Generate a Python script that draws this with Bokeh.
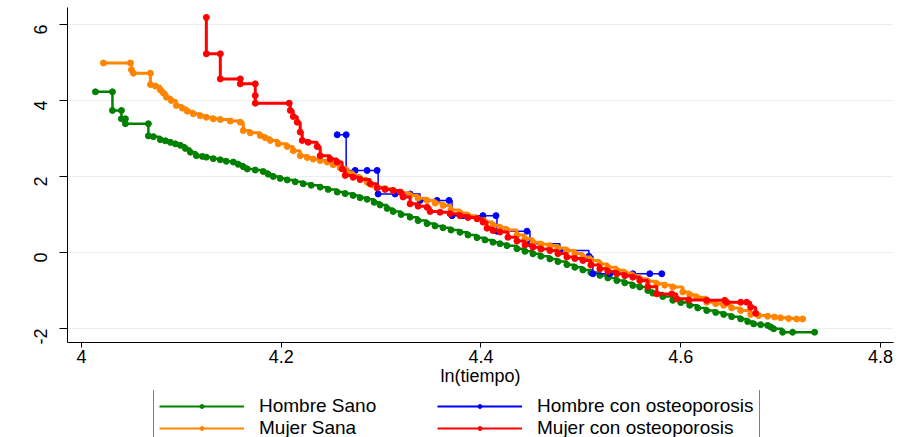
import math
from bokeh.plotting import figure
from bokeh.layouts import column
from bokeh.models import Range1d, FixedTicker, Legend, LegendItem
from bokeh.embed import file_html
from bokeh.resources import INLINE

# Hombre Sano
hs_x = [4.014, 4.031, 4.031, 4.040, 4.040, 4.044, 4.044, 4.067, 4.067, 4.072, 4.079, 4.084, 4.089, 4.094,
        4.099, 4.104, 4.109, 4.115, 4.121, 4.125, 4.132, 4.139, 4.145, 4.152, 4.157, 4.162, 4.166, 4.174,
        4.182, 4.187, 4.192, 4.199, 4.206, 4.214, 4.222, 4.230, 4.239, 4.247, 4.256, 4.264, 4.272, 4.279,
        4.286, 4.293, 4.299, 4.306, 4.312, 4.320, 4.329, 4.337, 4.346, 4.354, 4.362, 4.370, 4.379, 4.387,
        4.396, 4.404, 4.412, 4.419, 4.426, 4.436, 4.444, 4.452, 4.460, 4.469, 4.477, 4.486, 4.494, 4.502,
        4.510, 4.519, 4.527, 4.536, 4.544, 4.552, 4.559, 4.567, 4.572, 4.582, 4.592, 4.600, 4.609, 4.617,
        4.626, 4.635, 4.643, 4.651, 4.660, 4.667, 4.673, 4.680, 4.687, 4.690, 4.693, 4.702, 4.712, 4.734]
hs_y = [4.23, 4.23, 3.74, 3.74, 3.52, 3.52, 3.39, 3.39, 3.07, 3.05, 2.97, 2.94, 2.90, 2.86,
        2.82, 2.74, 2.64, 2.55, 2.53, 2.51, 2.47, 2.44, 2.40, 2.38, 2.32, 2.26, 2.20, 2.17,
        2.13, 2.06, 2.00, 1.95, 1.91, 1.86, 1.81, 1.77, 1.72, 1.66, 1.59, 1.55, 1.50, 1.44,
        1.40, 1.32, 1.25, 1.16, 1.08, 1.00, 0.93, 0.84, 0.76, 0.70, 0.65, 0.59, 0.53, 0.46,
        0.39, 0.33, 0.27, 0.23, 0.18, 0.10, 0.03, -0.035, -0.10, -0.17, -0.24, -0.32, -0.39, -0.46,
        -0.53, -0.605, -0.67, -0.74, -0.80, -0.87, -0.91, -1.00, -1.07, -1.16, -1.26, -1.32, -1.39, -1.46,
        -1.53, -1.58, -1.63, -1.69, -1.75, -1.82, -1.88, -1.90, -1.92, -1.96, -2.01, -2.10, -2.10, -2.10]

# Hombre con osteoporosis
ho_x = [4.256, 4.265, 4.265, 4.274, 4.286, 4.296, 4.297, 4.314, 4.329, 4.339, 4.356, 4.368, 4.371,
        4.382, 4.402, 4.415, 4.416, 4.446, 4.449, 4.479, 4.508, 4.512, 4.529, 4.552, 4.569, 4.581]
ho_y = [3.10, 3.10, 2.16, 2.16, 2.16, 2.16, 1.54, 1.54, 1.54, 1.37, 1.37, 1.37, 0.97,
        0.97, 0.97, 0.97, 0.56, 0.56, 0.23, 0.05, -0.10, -0.56, -0.56, -0.56, -0.56, -0.56]

# Mujer Sana
ms_x = [4.022, 4.049, 4.050, 4.052, 4.069, 4.069, 4.074, 4.079, 4.082, 4.085, 4.090, 4.095, 4.101,
        4.106, 4.112, 4.119, 4.125, 4.132, 4.139, 4.149, 4.159, 4.162, 4.169, 4.179, 4.184, 4.189,
        4.197, 4.206, 4.212, 4.219, 4.226, 4.232, 4.239, 4.246, 4.252, 4.259, 4.266, 4.272, 4.279,
        4.286, 4.291, 4.296, 4.304, 4.312, 4.320, 4.329, 4.337, 4.346, 4.354, 4.362, 4.370, 4.379,
        4.387, 4.396, 4.404, 4.412, 4.419, 4.426, 4.436, 4.444, 4.452, 4.460, 4.469, 4.477, 4.486,
        4.494, 4.502, 4.510, 4.519, 4.527, 4.536, 4.544, 4.552, 4.559, 4.567, 4.576, 4.584, 4.592,
        4.602, 4.609, 4.616, 4.626, 4.635, 4.643, 4.651, 4.660, 4.670, 4.678, 4.687, 4.694, 4.700,
        4.708, 4.716, 4.722]
ms_y = [4.99, 4.99, 4.81, 4.72, 4.72, 4.42, 4.38, 4.28, 4.20, 4.09, 4.00, 3.87, 3.80,
        3.72, 3.65, 3.60, 3.56, 3.52, 3.50, 3.46, 3.43, 3.21, 3.15, 3.08, 3.02, 2.95,
        2.86, 2.79, 2.68, 2.55, 2.50, 2.46, 2.42, 2.38, 2.31, 2.23, 2.12, 2.03, 1.95,
        1.85, 1.78, 1.72, 1.68, 1.63, 1.57, 1.50, 1.43, 1.37, 1.30, 1.24, 1.12, 1.04,
        0.97, 0.89, 0.80, 0.72, 0.66, 0.59, 0.46, 0.36, 0.27, 0.22, 0.18, 0.12, 0.05,
        -0.03, -0.12, -0.21, -0.30, -0.39, -0.47, -0.54, -0.61, -0.69, -0.76, -0.82, -0.86, -0.91,
        -1.04, -1.11, -1.18, -1.31, -1.35, -1.39, -1.46, -1.53, -1.63, -1.66, -1.68, -1.70, -1.72,
        -1.74, -1.75, -1.75]

# Mujer con osteoporosis
mo_x = [4.125, 4.125, 4.139, 4.139, 4.159, 4.159, 4.174, 4.174, 4.174, 4.208, 4.209, 4.212, 4.216,
        4.219, 4.221, 4.227, 4.236, 4.239, 4.249, 4.256, 4.261, 4.264, 4.272, 4.279, 4.289, 4.296,
        4.304, 4.312, 4.319, 4.322, 4.329, 4.337, 4.346, 4.349, 4.359, 4.369, 4.379, 4.387, 4.396,
        4.402, 4.406, 4.412, 4.419, 4.427, 4.436, 4.444, 4.452, 4.460, 4.469, 4.477, 4.486, 4.494,
        4.502, 4.510, 4.519, 4.527, 4.536, 4.544, 4.552, 4.559, 4.567, 4.576, 4.591, 4.596, 4.608,
        4.626, 4.644, 4.646, 4.660, 4.666, 4.670, 4.675]
mo_y = [6.19, 5.23, 5.23, 4.57, 4.57, 4.44, 4.44, 4.13, 3.93, 3.93, 3.74, 3.58, 3.43,
        3.17, 2.95, 2.90, 2.79, 2.55, 2.46, 2.38, 2.20, 2.03, 1.98, 1.92, 1.81, 1.70,
        1.66, 1.63, 1.59, 1.46, 1.28, 1.22, 1.19, 1.08, 1.06, 1.02, 0.97, 0.92, 0.89,
        0.80, 0.64, 0.58, 0.54, 0.40, 0.30, 0.20, 0.14, 0.09, 0.05, -0.03, -0.12, -0.16,
        -0.21, -0.33, -0.43, -0.50, -0.56, -0.61, -0.65, -0.74, -0.90, -1.09, -1.09, -1.22, -1.25,
        -1.26, -1.26, -1.31, -1.31, -1.31, -1.44, -1.60]

x_ticks = [4.0, 4.2, 4.4, 4.6, 4.8]
x_tick_labels = ["4", "4.2", "4.4", "4.6", "4.8"]
y_ticks = [-2, 0, 2, 4, 6]
y_tick_labels = ["-2", "0", "2", "4", "6"]
x_title = "ln(tiempo)"

FONT = "Liberation Sans"
W = 899
H_MAIN = 390
H_LEG = 47

p = figure(width=W, height=H_MAIN, x_range=Range1d(3.986, 4.813), y_range=Range1d(-2.37, 6.45),
           output_backend="svg", toolbar_location=None,
           min_border_left=67, min_border_right=6, min_border_top=7, min_border_bottom=48)
p.outline_line_color = None
p.background_fill_color = "white"
p.border_fill_color = "white"

p.xgrid.grid_line_color = None
p.ygrid.grid_line_color = "#E6EFF1"
p.ygrid.grid_line_width = 1
p.ygrid.ticker = FixedTicker(ticks=y_ticks)

p.xaxis.ticker = FixedTicker(ticks=x_ticks)
p.xaxis.major_label_overrides = dict(zip(x_ticks, x_tick_labels))
p.yaxis.ticker = FixedTicker(ticks=y_ticks)
p.yaxis.major_label_overrides = dict(zip(y_ticks, y_tick_labels))

for ax in (p.xaxis[0], p.yaxis[0]):
    ax.axis_line_color = "black"
    ax.axis_line_width = 1
    ax.major_tick_line_color = "black"
    ax.minor_tick_line_color = None
    ax.major_tick_in = 0
    ax.major_label_text_font = FONT
    ax.major_label_text_font_size = "18px"
    ax.major_label_text_color = "black"

p.xaxis.major_tick_out = 5
p.xaxis.major_label_standoff = 2
p.xaxis.axis_label = x_title
p.xaxis.axis_label_text_font = FONT
p.xaxis.axis_label_text_font_size = "18px"
p.xaxis.axis_label_text_font_style = "normal"
p.xaxis.axis_label_text_color = "black"
p.xaxis.axis_label_standoff = 0

p.yaxis.major_tick_out = 8
p.yaxis.major_label_standoff = 19
p.yaxis.major_label_orientation = math.pi / 2

series = [
    (hs_x, hs_y, "#008000", 2.5, "Hombre Sano"),
    (ho_x, ho_y, "#0000FF", 1.5, "Hombre con osteoporosis"),
    (ms_x, ms_y, "#FF8500", 3, "Mujer Sana"),
    (mo_x, mo_y, "#FF0000", 3, "Mujer con osteoporosis"),
]

# legend strip below the chart (its ranges keep the proxy glyphs out of view)
q = figure(width=W, height=H_LEG, output_backend="svg", toolbar_location=None,
           x_range=Range1d(0, 1), y_range=Range1d(0, 1),
           x_axis_location=None, y_axis_location=None,
           min_border=0, min_border_left=0, min_border_right=0, min_border_top=0, min_border_bottom=0)
q.outline_line_color = None
q.xgrid.grid_line_color = None
q.ygrid.grid_line_color = None
q.background_fill_color = "white"
q.border_fill_color = "white"

leg_rends = {}
for xs, ys, col, lw, lab in series:
    p.step(xs, ys, mode="after", line_color=col, line_width=lw)
    p.scatter(xs, ys, marker="circle", size=6, fill_color=col, line_color=col)
    a = q.line(xs[:2], ys[:2], line_color=col, line_width=2)
    b = q.scatter(xs[:1], ys[:1], marker="circle", size=4, fill_color=col, line_color=col)
    leg_rends[lab] = [a, b]

order = ["Hombre Sano", "Mujer Sana", "Hombre con osteoporosis", "Mujer con osteoporosis"]
legend = Legend(items=[LegendItem(label=l, renderers=leg_rends[l]) for l in order],
                ncols=2, location=(86, -8), margin=0, padding=5, spacing=0,
                glyph_width=85, glyph_height=10, label_height=22, label_width=178,
                label_standoff=15, label_text_font=FONT, label_text_font_size="19px",
                label_text_color="black", border_line_color="black", border_line_width=1.2,
                background_fill_color="white", background_fill_alpha=1)
q.add_layout(legend, "center")

layout = column(p, q, spacing=0)
open("out.html", "w").write(file_html(layout, INLINE))
